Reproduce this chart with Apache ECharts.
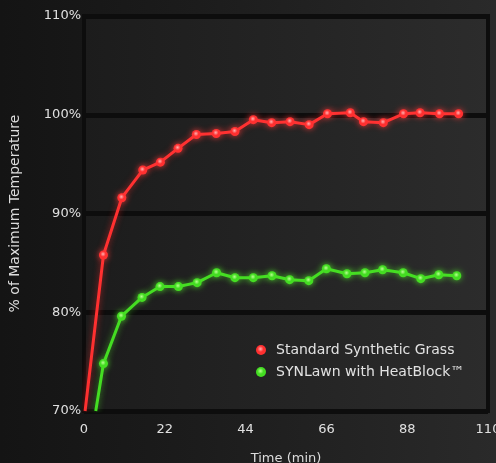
<!DOCTYPE html>
<html>
<head>
<meta charset="utf-8">
<script src="https://cdn.jsdelivr.net/npm/echarts@6/dist/echarts.min.js"></script>
<style>
html,body{margin:0;padding:0;width:496px;height:463px;overflow:hidden;
background:linear-gradient(to right,#141414 0%,#1c1c1c 40%,#2a2a2a 100%);}
#c{width:496px;height:463px;}
</style>
</head>
<body>
<div id="c"></div>
<script>
var xTicks = [0, 22, 44, 66, 88, 110];
var yTicks = [70, 80, 90, 100, 110];
var seriesNames = ['Standard Synthetic Grass', 'SYNLawn with HeatBlock\u2122'];
var redTime = [0.3, 5.3, 10.3, 16.0, 20.8, 25.6, 30.6, 36.0, 41.1, 46.1, 51.1, 56.1, 61.3, 66.3, 72.5, 76.1, 81.5, 87.0, 91.5, 96.8, 102.0];
var redPct  = [70, 85.8, 91.6, 94.4, 95.2, 96.6, 98.0, 98.1, 98.3, 99.5, 99.2, 99.3, 99.0, 100.1, 100.2, 99.3, 99.2, 100.1, 100.2, 100.1, 100.1];
var greenTime = [3.2, 5.3, 10.2, 15.8, 20.7, 25.7, 30.8, 36.1, 41.1, 46.1, 51.2, 56.0, 61.2, 66.0, 71.6, 76.5, 81.3, 86.9, 91.7, 96.6, 101.5];
var greenPct  = [70, 74.8, 79.6, 81.5, 82.6, 82.6, 83.0, 84.0, 83.5, 83.5, 83.7, 83.3, 83.2, 84.4, 83.9, 84.0, 84.3, 84.0, 83.4, 83.8, 83.7];

function build(t, v) {
  return t.map(function (x, i) {
    var item = { value: [x, v[i]] };
    if (i === 0) item.symbol = 'none';
    return item;
  });
}
function dot(center, edge) {
  return { type: 'radial', x: 0.45, y: 0.4, r: 0.6,
    colorStops: [{ offset: 0, color: center }, { offset: 0.5, color: edge }, { offset: 1, color: edge }] };
}
var font = '"DejaVu Sans", sans-serif';
var chart = echarts.init(document.getElementById('c'));
chart.setOption({
  backgroundColor: 'transparent',
  animation: false,
  textStyle: { fontFamily: font },
  grid: {
    left: 84, right: 8, top: 16, bottom: 52, show: true,
    outerBoundsMode: 'none', containLabel: false,
    backgroundColor: { type: 'linear', x: 0, y: 0, x2: 1, y2: 0,
      colorStops: [{ offset: 0, color: '#1c1c1c' }, { offset: 1, color: '#2c2c2c' }] },
    borderColor: '#0d0d0d', borderWidth: 4
  },
  legend: {
    orient: 'vertical', left: 251, top: 338, itemGap: 8,
    icon: 'circle', itemWidth: 10, itemHeight: 10,
    textStyle: { color: '#e2e2e2', fontSize: 14, fontFamily: font, padding: [0, 0, 0, 5] },
    data: seriesNames
  },
  xAxis: {
    type: 'value', min: xTicks[0], max: xTicks[xTicks.length - 1], interval: 22,
    name: 'Time (min)', nameLocation: 'middle', nameGap: 41,
    nameTextStyle: { color: '#dcdcdc', fontSize: 13, fontFamily: font },
    axisLine: { show: false }, axisTick: { show: false },
    axisLabel: { color: '#e0e0e0', fontSize: 13, margin: 12, fontFamily: font },
    splitLine: { show: false }
  },
  yAxis: {
    type: 'value', min: yTicks[0], max: yTicks[yTicks.length - 1], interval: 10,
    name: '% of Maximum Temperature', nameLocation: 'middle', nameGap: 62,
    nameTextStyle: { color: '#dcdcdc', fontSize: 14, fontFamily: font },
    axisLine: { show: false }, axisTick: { show: false },
    axisLabel: { color: '#e0e0e0', fontSize: 13, margin: 3, formatter: '{value}%', fontFamily: font },
    splitLine: { show: true, lineStyle: { color: '#0d0d0d', width: 5 } }
  },
  series: [
    {
      name: seriesNames[0], type: 'line', data: build(redTime, redPct),
      symbol: 'circle', symbolSize: 9, clip: true,
      lineStyle: { color: '#ff3030', width: 3, shadowBlur: 6, shadowColor: 'rgba(255,40,40,0.6)' },
      itemStyle: { color: dot('#ffb0b0', '#ff3030'), borderWidth: 0, shadowBlur: 6, shadowColor: 'rgba(255,60,60,0.8)' }
    },
    {
      name: seriesNames[1], type: 'line', data: build(greenTime, greenPct),
      symbol: 'circle', symbolSize: 9, clip: true,
      lineStyle: { color: '#44dd22', width: 3, shadowBlur: 6, shadowColor: 'rgba(80,230,40,0.6)' },
      itemStyle: { color: dot('#b8ff90', '#44dd22'), borderWidth: 0, shadowBlur: 6, shadowColor: 'rgba(80,230,40,0.8)' }
    }
  ]
});
</script>
</body>
</html>
